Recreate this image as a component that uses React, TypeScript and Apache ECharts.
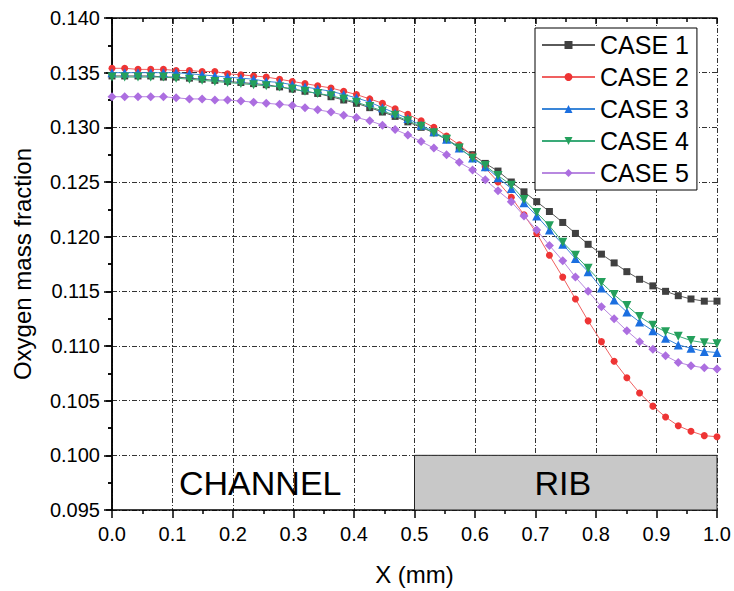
import React, { useEffect, useRef } from "react";
import * as echarts from "echarts";

const xs = [0.000, 0.021, 0.043, 0.064, 0.085, 0.106, 0.128, 0.149, 0.170, 0.191, 0.213, 0.234, 0.255, 0.277, 0.298, 0.319, 0.340, 0.362, 0.383, 0.404, 0.426, 0.447, 0.468, 0.489, 0.511, 0.532, 0.553, 0.574, 0.596, 0.617, 0.638, 0.660, 0.681, 0.702, 0.723, 0.745, 0.766, 0.787, 0.809, 0.830, 0.851, 0.872, 0.894, 0.915, 0.936, 0.957, 0.979, 1.000];

const case1 = [0.1347, 0.1347, 0.1347, 0.1347, 0.1346, 0.1346, 0.1345, 0.1344, 0.1343, 0.1342, 0.1341, 0.1340, 0.1339, 0.1337, 0.1335, 0.1333, 0.1331, 0.1328, 0.1325, 0.1322, 0.1318, 0.1314, 0.1310, 0.1305, 0.1300,
  0.1295, 0.1289, 0.1282, 0.1275, 0.1267, 0.1260, 0.1250, 0.1241, 0.1232, 0.1223, 0.1213, 0.1203, 0.1193, 0.1184, 0.1176, 0.1168, 0.1161, 0.1155, 0.1150, 0.1146, 0.1143, 0.1141, 0.1141];
const case2 = [0.1354, 0.1354, 0.1353, 0.1353, 0.1353, 0.1352, 0.1352, 0.1351, 0.1351, 0.1349, 0.1348, 0.1347, 0.1346, 0.1344, 0.1342, 0.1340, 0.1338, 0.1336, 0.1333, 0.1330, 0.1326, 0.1322, 0.1317, 0.1312, 0.1306,
  0.1300, 0.1292, 0.1284, 0.1274, 0.1263, 0.1250, 0.1236, 0.1220,
  0.1203, 0.1183, 0.1163, 0.1143, 0.1123, 0.1104, 0.1086, 0.1071, 0.1057, 0.1045, 0.1035, 0.1027, 0.1022, 0.1018, 0.1017];
const case3 = [0.1350, 0.1350, 0.1350, 0.1350, 0.1350, 0.1350, 0.1349, 0.1348, 0.1347, 0.1346, 0.1345, 0.1344, 0.1342, 0.1341, 0.1339, 0.1337, 0.1335, 0.1333, 0.1330, 0.1327, 0.1323, 0.1318, 0.1313, 0.1308, 0.1302,
  0.1296, 0.1289, 0.1281, 0.1272, 0.1264, 0.1254, 0.1244, 0.1231, 0.1219, 0.1206, 0.1193, 0.1180, 0.1168, 0.1153, 0.1142, 0.1131, 0.1122, 0.1114, 0.1107, 0.1101, 0.1098, 0.1095, 0.1094];
const case4 = [0.1346, 0.1346, 0.1346, 0.1346, 0.1346, 0.1345, 0.1344, 0.1343, 0.1342, 0.1341, 0.1340, 0.1339, 0.1338, 0.1337, 0.1335, 0.1333, 0.1331, 0.1329, 0.1326, 0.1323, 0.1319, 0.1315, 0.1311, 0.1306, 0.1301,
  0.1295, 0.1289, 0.1281, 0.1272, 0.1265, 0.1256, 0.1247, 0.1234, 0.1222, 0.1210, 0.1195, 0.1183, 0.1171, 0.1158, 0.1147, 0.1137, 0.1127, 0.1119, 0.1113, 0.1109, 0.1105, 0.1103, 0.1102];
const case5 = [0.1328, 0.1328, 0.1328, 0.1328, 0.1328, 0.1327, 0.1326, 0.1326, 0.1325, 0.1325, 0.1324, 0.1323, 0.1322, 0.1321, 0.1320, 0.1318, 0.1316, 0.1314, 0.1311, 0.1309, 0.1306, 0.1302, 0.1298, 0.1293, 0.1287,
  0.1281, 0.1275, 0.1268, 0.1261, 0.1252, 0.1242, 0.1232, 0.1219, 0.1206, 0.1192, 0.1178, 0.1163, 0.1150, 0.1136, 0.1125, 0.1114, 0.1104, 0.1097, 0.1091, 0.1085, 0.1082, 0.1080, 0.1079];

const seriesNames = ["CASE 1", "CASE 2", "CASE 3", "CASE 4", "CASE 5"];
const regionLabels = ["CHANNEL", "RIB"];
const regionBounds = [0, 0.5, 1.0];
const regionY = [0.095, 0.1];

const FONT = "'Liberation Sans', Arial, sans-serif";

export default function App() {
  const ref = useRef<HTMLDivElement>(null);
  useEffect(() => {
    document.body.style.margin = "0";
    const chart = echarts.init(ref.current!, null, { renderer: "svg" });
    const all = [case1, case2, case3, case4, case5];
    const styles = [
      { line: "#5a5a5a", mark: "#404040", symbol: "rect", size: 7 },
      { line: "#f06060", mark: "#ee3434", symbol: "circle", size: 7 },
      { line: "#3a86d8", mark: "#1b6fe0", symbol: "triangle", size: 9 },
      { line: "#3aaa78", mark: "#24a05c", symbol: "path://M0,0 L10,0 L5,9 Z", size: 9 },
      { line: "#b888e0", mark: "#ac6ee0", symbol: "diamond", size: 9 },
    ];
    const gridLine = { show: true, lineStyle: { color: "#333", width: 1, type: [5, 2, 1, 2] } };
    const series: any[] = all.map((vals, k) => ({
      name: seriesNames[k],
      type: "line",
      data: xs.map((x, i) => [x, vals[i]]),
      symbol: styles[k].symbol,
      symbolSize: styles[k].size,
      showAllSymbol: true,
      lineStyle: { color: styles[k].line, width: 1 },
      itemStyle: { color: styles[k].mark },
      z: 5 + k,
    }));
    series[0].markArea = {
      silent: true,
      z: 1,
      data: [
        [
          { xAxis: regionBounds[0], yAxis: regionY[0], name: regionLabels[0], itemStyle: { color: "rgba(0,0,0,0)", borderWidth: 0 } },
          { xAxis: regionBounds[1], yAxis: regionY[1] },
        ],
        [
          { xAxis: regionBounds[1], yAxis: regionY[0], name: regionLabels[1], itemStyle: { color: "#c8c8c8", borderColor: "#222", borderWidth: 1 } },
          { xAxis: regionBounds[2], yAxis: regionY[1] },
        ],
      ],
      label: { show: true, position: "inside", fontSize: 34, color: "#000", fontFamily: FONT, offset: [-3, 0] },
    };
    chart.setOption({
      animation: false,
      backgroundColor: "#fff",
      grid: { left: 112, right: 17, top: 18, bottom: 80 },
      legend: {
        orient: "vertical",
        left: 535,
        top: 28,
        data: seriesNames,
        backgroundColor: "#fff",
        borderColor: "#000",
        borderWidth: 1,
        padding: [4, 8, 4, 6],
        itemWidth: 53,
        itemHeight: 10,
        itemGap: 6,
        textStyle: { fontSize: 25, fontFamily: FONT, color: "#000", lineHeight: 26 },
      },
      xAxis: [
        {
          type: "value", min: 0, max: 1, interval: 0.1,
          name: "X (mm)", nameLocation: "middle", nameGap: 52,
          nameTextStyle: { fontSize: 24, fontFamily: FONT, color: "#000" },
          axisLine: { lineStyle: { color: "#000", width: 1.5 } },
          axisTick: { inside: false, length: 8, lineStyle: { color: "#000", width: 1.5 } },
          minorTick: { show: true, splitNumber: 2, length: 4, lineStyle: { color: "#000", width: 1.5 } },
          axisLabel: { fontSize: 20, fontFamily: FONT, color: "#000", margin: 14, formatter: (v: number) => v.toFixed(1) },
          splitLine: gridLine,
        },
        {
          type: "value", min: 0, max: 1, interval: 0.1, position: "top",
          axisLine: { lineStyle: { color: "#000", width: 1.5 } },
          axisTick: { inside: true, length: 6, lineStyle: { color: "#000", width: 1.5 } },
          minorTick: { show: true, splitNumber: 2, length: 4, lineStyle: { color: "#000", width: 1.5 } },
          axisLabel: { show: false },
          splitLine: { show: false },
        },
      ],
      yAxis: [
        {
          type: "value", min: 0.095, max: 0.14, interval: 0.005,
          name: "Oxygen mass fraction", nameLocation: "middle", nameGap: 78,
          nameTextStyle: { fontSize: 24, fontFamily: FONT, color: "#000" },
          axisLine: { lineStyle: { color: "#000", width: 1.5 } },
          axisTick: { inside: false, length: 8, lineStyle: { color: "#000", width: 1.5 } },
          minorTick: { show: true, splitNumber: 2, length: 4, lineStyle: { color: "#000", width: 1.5 } },
          axisLabel: { fontSize: 20, fontFamily: FONT, color: "#000", margin: 12, formatter: (v: number) => v.toFixed(3) },
          splitLine: gridLine,
        },
        {
          type: "value", min: 0.095, max: 0.14, interval: 0.005, position: "right",
          axisLine: { lineStyle: { color: "#000", width: 1.5 } },
          axisTick: { inside: true, length: 6, lineStyle: { color: "#000", width: 1.5 } },
          minorTick: { show: true, splitNumber: 2, length: 4, lineStyle: { color: "#000", width: 1.5 } },
          axisLabel: { show: false },
          splitLine: { show: false },
        },
      ],
      series,
    });
    return () => chart.dispose();
  }, []);
  return <div ref={ref} style={{ width: 734, height: 591, position: "absolute", left: 0, top: 0 }} />;
}
